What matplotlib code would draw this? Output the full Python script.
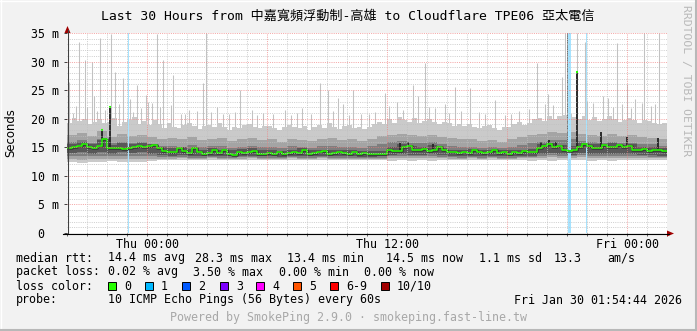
import numpy as np
import matplotlib
matplotlib.use("Agg")
import matplotlib.pyplot as plt
from matplotlib.patches import Rectangle, Polygon
from matplotlib.lines import Line2D

# ---------------- data (hours since Wed 20:00, values in ms) ----------------
# highest ping, one value per quarter hour (120 intervals)
p10 = [19.3, 20.2, 19.6, 20.0, 19.0, 19.5, 19.9, 19.2, 19.4, 20.1,
       18.8, 19.5, 19.7, 20.3, 19.1, 19.6, 18.9, 19.8, 19.0, 18.4,
       19.2, 18.5, 18.4, 18.9, 19.3, 18.7, 18.2, 18.7, 18.9, 18.5,
       19.2, 18.6, 18.1, 18.5, 18.4, 18.9, 19.1, 18.5, 18.3, 18.8,
       18.8, 18.3, 18.0, 18.5, 18.9, 18.6, 18.3, 18.7, 18.1, 18.5,
       18.9, 18.4, 19.2, 18.6, 18.2, 18.7, 18.9, 18.3, 18.5, 18.2,
       18.6, 19.0, 19.5, 19.0, 19.9, 19.3, 20.3, 19.7, 19.5, 20.1,
       19.2, 19.6, 19.9, 19.4, 19.0, 19.5, 19.3, 18.8, 19.1, 18.7,
       19.0, 18.6, 18.3, 18.8, 18.9, 18.4, 18.1, 18.5, 18.6, 19.0,
       19.4, 18.9, 19.3, 19.9, 20.2, 19.6, 20.5, 20.0, 20.4, 20.7,
       20.9, 20.3, 20.0, 20.5, 19.8, 20.3, 19.6, 20.0, 20.4, 19.9,
       19.4, 19.8, 20.2, 19.7, 19.3, 19.8, 19.6, 19.2, 19.0, 19.2]
# other smoke percentiles, one value per half hour (60 intervals)
p9 = [17.2, 17.5, 17.0, 17.8, 16.8, 17.3, 17.0, 17.2, 16.8, 16.5,
      16.6, 16.4, 16.8, 16.2, 16.5, 16.7, 16.1, 16.4, 16.6, 16.3,
      16.4, 16.0, 16.5, 16.3, 16.1, 16.5, 16.6, 16.2, 16.4, 16.1,
      16.5, 16.9, 17.2, 17.4, 17.1, 16.9, 17.2, 16.8, 16.6, 16.4,
      16.4, 16.1, 16.3, 16.0, 16.4, 16.8, 17.1, 17.4, 17.6, 17.5,
      17.6, 17.3, 17.2, 17.0, 17.3, 16.9, 17.1, 16.8, 16.7, 16.5]
p8 = [16.0, 16.2, 15.8, 16.4, 15.7, 16.0, 15.8, 16.0, 15.6, 15.3,
      15.3, 15.1, 15.4, 15.0, 15.2, 15.3, 14.9, 15.1, 15.2, 15.0,
      15.1, 14.9, 15.2, 15.0, 14.9, 15.2, 15.2, 15.0, 15.1, 14.9,
      15.2, 15.6, 15.9, 16.1, 15.8, 15.7, 15.9, 15.5, 15.3, 15.1,
      15.1, 14.9, 15.0, 14.8, 15.1, 15.4, 15.8, 16.0, 16.3, 16.2,
      16.4, 16.1, 16.0, 15.8, 16.0, 15.7, 15.8, 15.6, 15.5, 15.3]
p7 = [15.6, 15.9, 15.5, 16.2, 15.4, 15.8, 15.6, 15.8, 15.5, 15.0,
      14.8, 15.0, 14.7, 14.6, 14.9, 14.6, 14.5, 14.7, 14.8, 14.5,
      14.5, 14.4, 14.6, 14.8, 14.5, 14.6, 14.5, 14.6, 14.5, 14.4,
      14.3, 14.4, 15.1, 15.5, 15.2, 15.1, 15.4, 14.9, 14.6, 14.5,
      14.7, 14.6, 14.6, 14.5, 14.6, 14.6, 14.7, 15.5, 15.8, 15.4,
      15.2, 15.8, 15.6, 15.5, 15.7, 15.4, 15.5, 15.1, 15.0, 14.8]
p4 = [14.0, 14.2, 13.9, 14.1, 13.9, 14.1, 14.0, 14.1, 13.9, 13.7,
      13.5, 13.6, 13.4, 13.4, 13.5, 13.4, 13.4, 13.5, 13.5, 13.4,
      13.4, 13.3, 13.5, 13.4, 13.4, 13.5, 13.4, 13.4, 13.4, 13.3,
      13.3, 13.4, 13.7, 13.9, 13.7, 13.7, 13.8, 13.6, 13.5, 13.4,
      13.5, 13.4, 13.5, 13.4, 13.4, 13.5, 13.5, 13.8, 14.0, 13.8,
      13.7, 14.0, 13.9, 13.8, 13.9, 13.8, 13.8, 13.7, 13.6, 13.5]
p3 = [13.4, 13.5, 13.4, 13.5, 13.4, 13.5, 13.4, 13.5, 13.4, 13.3,
      13.3, 13.3, 13.2, 13.2, 13.3, 13.2, 13.2, 13.3, 13.3, 13.2,
      13.2, 13.2, 13.3, 13.2, 13.2, 13.3, 13.2, 13.2, 13.2, 13.2,
      13.2, 13.2, 13.4, 13.5, 13.4, 13.4, 13.5, 13.3, 13.3, 13.2,
      13.3, 13.2, 13.3, 13.2, 13.2, 13.3, 13.3, 13.5, 13.6, 13.5,
      13.4, 13.6, 13.5, 13.5, 13.5, 13.4, 13.5, 13.4, 13.3, 13.3]
p2 = [12.9, 12.8, 13.0, 12.9, 13.0, 12.9, 13.0, 12.9, 13.0, 13.0,
      13.0, 13.1, 13.0, 13.0, 13.1, 13.0, 12.9, 13.0, 13.1, 13.0,
      13.0, 13.0, 13.1, 13.0, 13.0, 13.1, 13.0, 13.0, 13.0, 13.0,
      13.0, 13.0, 13.1, 13.2, 13.1, 13.1, 13.2, 13.1, 13.0, 13.0,
      13.1, 13.0, 13.1, 13.0, 13.0, 13.1, 13.1, 13.2, 13.3, 13.2,
      13.1, 13.3, 13.2, 13.2, 13.2, 13.1, 13.2, 13.1, 13.1, 13.1]
p1 = [12.4, 12.3, 12.5, 12.4, 12.6, 12.4, 12.5, 12.4, 12.6, 12.7,
      12.7, 12.8, 12.7, 12.8, 12.7, 12.8, 12.7, 12.8, 12.7, 12.8,
      12.8, 12.7, 12.8, 12.7, 12.8, 12.7, 12.8, 12.7, 12.8, 12.7,
      12.8, 12.7, 12.6, 12.7, 12.6, 12.7, 12.6, 12.7, 12.8, 12.7,
      12.8, 12.7, 12.8, 12.7, 12.8, 12.7, 12.6, 12.7, 12.6, 12.8,
      12.8, 12.7, 12.6, 12.7, 12.6, 12.7, 12.8, 12.7, 12.8, 12.7]

# median rtt, one value per quarter hour (120 intervals)
median = [14.9, 15.0, 15.3, 15.5, 15.0, 14.8, 15.2, 16.5, 14.8, 14.9,
          14.8, 14.7, 14.9, 15.0, 15.3, 15.0, 15.2, 15.4, 14.9, 14.4,
          14.2, 14.1, 14.8, 14.3, 14.0, 14.9, 14.2, 13.9, 14.0, 14.5,
          14.0, 14.6, 13.8, 13.7, 14.2, 14.0, 14.1, 14.3, 13.9, 13.9,
          14.0, 13.8, 14.1, 13.9, 14.0, 14.2, 14.0, 14.6, 13.9, 14.0,
          14.1, 14.3, 13.9, 14.0, 14.1, 14.0, 13.8, 14.2, 13.9, 14.0,
          13.8, 13.9, 13.8, 13.9, 14.6, 14.4, 14.3, 15.0, 15.3, 14.6,
          14.5, 14.7, 14.3, 14.5, 15.0, 14.6, 14.2, 14.1, 14.0, 14.1,
          14.0, 14.5, 14.1, 14.0, 14.2, 14.6, 14.0, 14.1, 13.9, 14.2,
          14.0, 14.3, 14.1, 14.2, 14.9, 15.2, 15.5, 15.0, 15.3, 14.6,
          14.3, 14.6, 15.0, 15.5, 15.3, 14.8, 14.9, 15.4, 15.0, 15.1,
          15.4, 15.0, 15.2, 14.6, 14.5, 14.7, 14.4, 14.5, 14.6, 14.3]

# single-step outliers of the highest ping (time h, value ms)
spike_t = [0.05, 0.1, 0.3, 0.6, 0.9, 1.0, 1.25, 1.35, 1.65, 1.9,
           2.2, 2.4, 2.8, 3.15, 3.3, 3.5, 3.95, 4.05, 4.25, 4.5,
           4.8, 5.2, 5.3, 5.7, 6.1, 6.8, 6.95, 7.2, 7.5, 8.1,
           8.65, 9.25, 9.8, 10.9, 11.2, 11.75, 12.65, 13.05, 13.55, 13.8,
           14.3, 14.7, 15.4, 15.9, 16.1, 16.5, 17.3, 17.55, 17.9, 18.4,
           18.9, 19.1, 19.4, 20.15, 20.6, 21.4, 21.9, 22.6, 23.5, 23.9,
           24.05, 24.75, 24.9, 25.5, 25.9, 26.3, 26.8, 27.05, 27.5, 27.75,
           28.0, 28.4, 28.75, 28.85, 29.2, 29.6,
           0.45, 1.5, 2.6, 3.7, 4.65, 5.9, 6.5, 7.8, 8.4, 9.5,
           10.3, 11.5, 12.2, 13.3, 14.1, 15.1, 16.8, 18.1, 19.7, 20.9,
           22.2, 23.1, 24.3, 26.0, 27.3, 28.2, 29.4]
spike_v = [25.4, 26.4, 21.0, 33.4, 30.3, 22.0, 30.0, 24.0, 34.1, 21.5,
           34.8, 28.2, 27.1, 23.5, 21.2, 25.9, 24.2, 23.0, 22.8, 34.8,
           30.3, 22.4, 27.6, 20.8, 21.5, 26.2, 35.0, 21.2, 22.0, 20.9,
           25.0, 21.6, 21.0, 21.5, 20.6, 21.8, 26.2, 25.0, 23.6, 22.5,
           25.0, 20.8, 21.2, 24.5, 22.3, 23.0, 25.9, 23.9, 29.7, 21.8,
           22.5, 21.0, 25.6, 25.4, 21.1, 23.3, 20.7, 21.3, 29.7, 22.5,
           24.4, 27.3, 35.0, 35.0, 33.4, 22.8, 24.0, 23.6, 33.2, 22.5,
           26.0, 23.5, 22.7, 35.0, 22.2, 35.0,
           22.3, 21.4, 22.6, 21.9, 22.1, 20.9, 21.3, 20.8, 21.2, 20.7,
           20.9, 21.0, 20.8, 21.4, 20.7, 20.9, 21.6, 22.0, 21.3, 20.8,
           20.9, 21.7, 22.4, 23.1, 22.0, 21.8, 22.6]

# dense (dark) smoke excursions and median outliers
dark_t = [1.75, 2.15, 16.65, 17.05, 18.3, 23.7, 24.1, 24.45, 25.05, 25.5, 26.7, 28.0, 29.55]
dark_v = [18.0, 22.0, 15.8, 15.9, 15.6, 16.0, 16.2, 16.0, 35.0, 28.2, 17.7, 16.8, 16.6]
med_out_t = [1.75, 2.15, 25.5]
med_out_v = [18.0, 22.0, 28.2]

# packet loss (10%) events: start hour, duration hours
loss_t = [3.03, 25.07, 25.95]
loss_dur = [0.05, 0.15, 0.07]

ytick_vals = [0, 5, 10, 15, 20, 25, 30, 35]
ytick_labels = ["0  ", "5 m", "10 m", "15 m", "20 m", "25 m", "30 m", "35 m"]
xtick_hours = [4, 16, 28]
xtick_labels = ["Thu 00:00", "Thu 12:00", "Fri 00:00"]
loss_names = ["0", "1", "2", "3", "4", "5", "6-9", "10/10"]
loss_colors = ["#26ff00", "#00b8ff", "#0059ff", "#7e00ff", "#ff00ff", "#ff5500", "#ff0000", "#a10000"]

# ---------------- figure ----------------
W, H = 697, 331
fig = plt.figure(figsize=(W / 100, H / 100), dpi=100)
fig.patch.set_facecolor("#f2f2f2")
MONO = "DejaVu Sans Mono"
FS = 8.4


def fx(x):
    return x / W


def fy(y):
    return 1 - y / H


ax = fig.add_axes([fx(67), fy(233), 600 / W, 200 / H])
ax.set_xlim(0, 30)
ax.set_ylim(0, 35)
ax.set_facecolor("white")
for s in ax.spines.values():
    s.set_visible(False)

t_half = np.arange(len(p9) + 1) * 0.5
t_q = np.arange(len(median) + 1) * 0.25


def ext(a):
    return np.append(a, a[-1])


# outermost layer: p1 (half-hour) .. p10 (quarter-hour)
p1_q = np.repeat(p1, 2)
ax.fill_between(t_q, ext(p1_q), ext(p10), step="post", color="#cacaca", lw=0, zorder=2)
layers = [(p2, p9, "#a4a4a4"), (p3, p8, "#7e7e7e"), (p4, p7, "#585858")]
for i, (lo, hi, c) in enumerate(layers):
    ax.fill_between(t_half, ext(lo), ext(hi), step="post", color=c, lw=0, zorder=2.1 + i * 0.1)

ax.vlines(spike_t, 17.5, spike_v, color="#c2c2c2", lw=0.75, zorder=1.9)

med_step = np.interp(dark_t, t_q[:-1] + 0.125, median)
for t, v, b in zip(dark_t, dark_v, med_step):
    col = "#6a6a6a" if v >= 34 else "#2a2a2a"
    ax.vlines(t, b, v, color=col, lw=1.4, zorder=3)

for t, d in zip(loss_t, loss_dur):
    ax.axvspan(t, t + d, color="#a6e3ff", lw=0, zorder=4)

ax.step(t_q, ext(median), where="post", color="#383838", lw=1.9, zorder=5)
ax.step(t_q, ext(median), where="post", color="#26ff00", lw=1.1, zorder=6)
ax.hlines(med_out_v, np.array(med_out_t) - 0.04, np.array(med_out_t) + 0.04, color="#26ff00", lw=1.5, zorder=6)

# grid (drawn over the graph, rrdtool style)
minor_y = [v for v in range(1, 36) if v % 5]
ax.hlines(minor_y, 0, 30, color="#c0c0c0", lw=0.72, linestyles=(0, (1, 1.2)), alpha=0.75, zorder=7)
ax.hlines(ytick_vals[1:], 0, 30, color="#f08080", lw=0.72, linestyles=(0, (1, 1.2)), alpha=0.7, zorder=7)
minor_x = [h for h in range(1, 30) if (h - 4) % 6]
major_x = [h for h in range(1, 30) if (h - 4) % 6 == 0]
ax.vlines(minor_x, 0, 35, color="#c0c0c0", lw=0.72, linestyles=(0, (1, 1.2)), alpha=0.75, zorder=7)
ax.vlines(major_x, 0, 35, color="#f08080", lw=0.72, linestyles=(0, (1, 1.2)), alpha=0.7, zorder=7)

ax.set_yticks(ytick_vals, ytick_labels)
ax.set_xticks(xtick_hours, xtick_labels)
ax.set_xticks(range(0, 31), minor=True)
ax.tick_params(axis="y", length=2, width=0.7, color="#404040", pad=3.5, labelsize=FS)
ax.tick_params(axis="x", which="both", length=2, width=0.7, color="#606060", pad=1.5, labelsize=FS)
for lab in ax.get_xticklabels() + ax.get_yticklabels():
    lab.set_family(MONO)

# axis lines and arrows
fig.add_artist(Line2D([fx(67.5), fx(67.5)], [fy(233), fy(30)], color="#404040", lw=0.8))
fig.add_artist(Line2D([fx(63), fx(669)], [fy(233.5), fy(233.5)], color="#000000", lw=0.8))
fig.add_artist(Polygon([[fx(67.5), fy(26)], [fx(64.5), fy(33)], [fx(70.5), fy(33)]], closed=True,
                       transform=fig.transFigure, color="#a00000", lw=0))
fig.add_artist(Polygon([[fx(674), fy(233.5)], [fx(667), fy(230.5)], [fx(667), fy(236.5)]], closed=True,
                       transform=fig.transFigure, color="#a00000", lw=0))

# texts
fig.text(fx(348), fy(16), "Last 30 Hours from 中嘉寬頻浮動制-高雄 to Cloudflare TPE06 亞太電信",
         family=[MONO, "Noto Sans CJK TC"], fontsize=9.45, ha="center", va="center", color="#000000")
fig.text(fx(11), fy(133), "Seconds", family="DejaVu Sans", fontsize=8.4, rotation=90, ha="center", va="center")
fig.text(fx(686), fy(5), "RRDTOOL / TOBI OETIKER", family=MONO, fontsize=8.2, rotation=-90,
         ha="center", va="top", color="#b8b8b8")

line1 = [(16, "median rtt:"), (108, "14.4 ms avg"), (195, "28.3 ms max"), (287, "13.4 ms min"),
         (386, "14.5 ms now"), (479, "1.1 ms sd"), (554, "13.3"), (607, "am/s")]
line2 = [(16, "packet loss:"), (108, "0.02 % avg"), (193, "3.50 % max"), (279, "0.00 % min"), (364, "0.00 % now")]
for x, s in line1:
    fig.text(fx(x), fy(258), s, family=MONO, fontsize=FS, ha="left", va="center")
for x, s in line2:
    fig.text(fx(x), fy(272), s, family=MONO, fontsize=FS, ha="left", va="center")
fig.text(fx(16), fy(286), "loss color:", family=MONO, fontsize=FS, ha="left", va="center")
box_x = [108, 145, 182, 220, 256, 293, 330, 381]
for bx, name, col in zip(box_x, loss_names, loss_colors):
    fig.add_artist(Rectangle((fx(bx), fy(290)), 8 / W, 8 / H, transform=fig.transFigure,
                             facecolor=col, edgecolor="#000000", lw=0.7))
    fig.text(fx(bx + 16), fy(286), name, family=MONO, fontsize=FS, ha="left", va="center")
fig.text(fx(16), fy(300), "probe:", family=MONO, fontsize=FS, ha="left", va="center")
fig.text(fx(108), fy(300), "10 ICMP Echo Pings (56 Bytes) every 60s", family=MONO, fontsize=FS,
         ha="left", va="center")
fig.text(fx(682), fy(300), "Fri Jan 30 01:54:44 2026", family=MONO, fontsize=FS, ha="right", va="center")
fig.text(fx(348), fy(318), "Powered by SmokePing 2.9.0 · smokeping.fast-line.tw", family=MONO, fontsize=FS,
         ha="center", va="center", color="#a8a8a8")

# outer frame
fig.add_artist(Line2D([fx(0), fx(696)], [fy(0.5), fy(0.5)], color="#ffffff", lw=1))
fig.add_artist(Line2D([fx(0.5), fx(0.5)], [fy(0), fy(330)], color="#ffffff", lw=1))
fig.add_artist(Line2D([fx(0), fx(697)], [fy(330), fy(330)], color="#b8b8b8", lw=1.5))
fig.add_artist(Line2D([fx(696), fx(696)], [fy(0), fy(331)], color="#b8b8b8", lw=1.5))

fig.savefig("out.png", dpi=100, facecolor=fig.get_facecolor())
